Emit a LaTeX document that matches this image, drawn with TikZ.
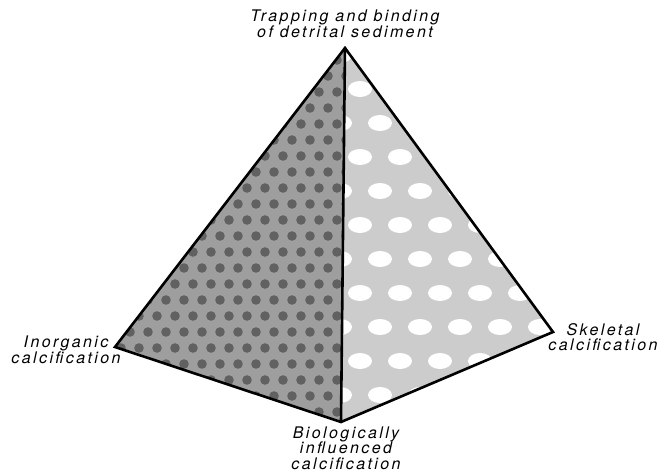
\documentclass[tikz,border=0pt]{standalone}
\usepackage{fontspec}
\newfontfamily\labfont{TeX Gyre Heros}[LetterSpace=15]
\begin{document}
\begin{tikzpicture}[x=1pt,y=-1pt,
  edge/.style={line width=2.6pt,line join=miter,line cap=round},
  lbl/.style={font=\labfont\itshape\fontsize{16}{15.5}\selectfont,align=center,inner sep=0pt},
  leftface/.style={fill=black!38},
  rosette/.style={fill=black!62},
  rightface/.style={fill=black!20},
  blob/.style={fill=white}]
\useasboundingbox (0,0) rectangle (661,476);
\coordinate (T) at (345,48);
\coordinate (L) at (115,347);
\coordinate (R) at (553,332);
\coordinate (B) at (341,422);
% left face
\begin{scope}
  \clip (T) -- (L) -- (B) -- cycle;
  \fill[leftface] (T) -- (L) -- (B) -- cycle;
  \foreach \j in {0,...,24}{
    \foreach \i in {0,...,13}{
      \fill[rosette] ({112+18*\i+9*mod(\j,2)},{44+16*\j}) circle (4.8pt);
    }
  }
\end{scope}
% right face
\begin{scope}
  \clip (T) -- (R) -- (B) -- cycle;
  \fill[rightface] (T) -- (R) -- (B) -- cycle;
  \foreach \j in {0,...,11}{
    \foreach \i in {0,...,5}{
      \fill[blob] ({340+40*\i+20*mod(\j,2)},{55+34*\j}) ellipse (12pt and 8pt);
    }
  }
\end{scope}
\draw[edge] (T) -- (L) -- (B) -- (R) -- cycle;
\draw[edge] (T) -- (B);
\node[lbl] (ltop) at (345,24) {Trapping and binding\\of detrital sediment};
\node[lbl] (lleft) at (66,350) {Inorganic\\calcification};
\node[lbl] (lright) at (603,337) {Skeletal\\calcification};
\node[lbl] (lbot) at (346,448) {Biologically\\influenced\\calcification};
\end{tikzpicture}
\end{document}
